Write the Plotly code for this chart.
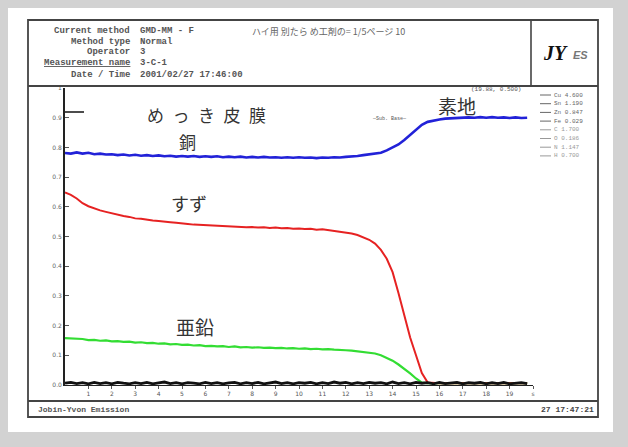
import plotly.graph_objects as go

# ---------------- data ----------------
depth = [0.00, 0.25, 0.50, 0.75, 1.00, 1.25, 1.50, 1.75, 2.00, 2.25,
         2.50, 2.75, 3.00, 3.25, 3.50, 3.75, 4.00, 4.25, 4.50, 4.75,
         5.00, 5.25, 5.50, 5.75, 6.00, 6.25, 6.50, 6.75, 7.00, 7.25,
         7.50, 7.75, 8.00, 8.25, 8.50, 8.75, 9.00, 9.25, 9.50, 9.75,
         10.00, 10.25, 10.50, 10.75, 11.00, 11.25, 11.50, 11.75, 12.00, 12.25,
         12.50, 12.75, 13.00, 13.25, 13.50, 13.75, 14.00, 14.25, 14.50, 14.75,
         15.00, 15.25, 15.50, 15.75, 16.00, 16.25, 16.50, 16.75, 17.00, 17.25,
         17.50, 17.75, 18.00, 18.25, 18.50, 18.75, 19.00, 19.25, 19.50, 19.75]

cu = [0.781, 0.779, 0.783, 0.779, 0.782, 0.777, 0.779, 0.776, 0.777, 0.774,
      0.776, 0.773, 0.775, 0.772, 0.774, 0.771, 0.773, 0.770, 0.772, 0.769,
      0.771, 0.769, 0.771, 0.768, 0.770, 0.768, 0.770, 0.767, 0.769, 0.767,
      0.769, 0.766, 0.768, 0.766, 0.768, 0.766, 0.767, 0.765, 0.767, 0.765,
      0.767, 0.765, 0.766, 0.764, 0.766, 0.765, 0.767, 0.766, 0.768, 0.769,
      0.771, 0.774, 0.777, 0.779, 0.782, 0.790, 0.800, 0.810, 0.825, 0.842,
      0.860, 0.876, 0.886, 0.891, 0.894, 0.897, 0.898, 0.900, 0.899, 0.901,
      0.900, 0.902, 0.900, 0.902, 0.900, 0.901, 0.899, 0.901, 0.899, 0.900]

sn = [0.648, 0.640, 0.628, 0.612, 0.602, 0.594, 0.588, 0.583, 0.578, 0.572,
      0.569, 0.566, 0.561, 0.560, 0.556, 0.554, 0.552, 0.549, 0.548, 0.546,
      0.543, 0.542, 0.540, 0.539, 0.537, 0.536, 0.535, 0.535, 0.533, 0.534,
      0.532, 0.531, 0.532, 0.530, 0.531, 0.529, 0.530, 0.528, 0.529, 0.526,
      0.527, 0.525, 0.526, 0.523, 0.524, 0.521, 0.520, 0.516, 0.514, 0.510,
      0.505, 0.498, 0.489, 0.476, 0.455, 0.425, 0.380, 0.310, 0.230, 0.160,
      0.100, 0.040, 0.008, 0.006, 0.006, 0.006, 0.006, 0.006, 0.006, 0.006,
      0.006, 0.006, 0.006, 0.006, 0.006, 0.006, 0.006, 0.006, 0.006, 0.006]

zn = [0.158, 0.157, 0.154, 0.155, 0.151, 0.152, 0.149, 0.150, 0.147, 0.148,
      0.145, 0.146, 0.143, 0.144, 0.141, 0.142, 0.139, 0.140, 0.137, 0.138,
      0.135, 0.136, 0.133, 0.134, 0.131, 0.132, 0.130, 0.131, 0.128, 0.130,
      0.127, 0.128, 0.126, 0.127, 0.125, 0.126, 0.124, 0.125, 0.123, 0.124,
      0.122, 0.123, 0.121, 0.122, 0.120, 0.121, 0.119, 0.119, 0.117, 0.116,
      0.114, 0.112, 0.109, 0.106, 0.100, 0.092, 0.082, 0.069, 0.055, 0.039,
      0.022, 0.008, 0.006, 0.006, 0.006, 0.006, 0.006, 0.006, 0.006, 0.006,
      0.006, 0.006, 0.006, 0.006, 0.006, 0.006, 0.006, 0.006, 0.006, 0.006]

fe = [0.006, 0.009, 0.005, 0.008, 0.004, 0.009, 0.005, 0.008, 0.004, 0.009,
      0.006, 0.004, 0.008, 0.005, 0.009, 0.004, 0.007, 0.010, 0.005, 0.008,
      0.004, 0.008, 0.006, 0.004, 0.009, 0.005, 0.008, 0.004, 0.007, 0.009,
      0.004, 0.008, 0.005, 0.009, 0.004, 0.007, 0.010, 0.005, 0.008, 0.004,
      0.008, 0.006, 0.009, 0.004, 0.008, 0.005, 0.010, 0.006, 0.009, 0.004,
      0.008, 0.005, 0.009, 0.006, 0.008, 0.004, 0.010, 0.005, 0.008, 0.004,
      0.009, 0.006, 0.008, 0.004, 0.009, 0.005, 0.008, 0.009, 0.004, 0.008,
      0.006, 0.009, 0.004, 0.008, 0.005, 0.009, 0.004, 0.007, 0.008, 0.005]

y_ticks = [0.0, 0.1, 0.2, 0.3, 0.4, 0.5, 0.6, 0.7, 0.8, 0.9, 1.0]
y_ticktext = ["0.0", "0.1", "0.2", "0.3", "0.4", "0.5", "0.6", "0.7", "0.8", "0.9", "1"]
x_ticks = [1, 2, 3, 4, 5, 6, 7, 8, 9, 10, 11, 12, 13, 14, 15, 16, 17, 18, 19, 20]
x_ticktext = ["1", "2", "3", "4", "5", "6", "7", "8", "9", "10", "11", "12", "13",
              "14", "15", "16", "17", "18", "19", "s"]

header_labels = ["Current method", "Method type", "Operator", "Measurement name", "Date / Time"]
header_values = ["GMD-MM - F", "Normal", "3", "3-C-1", "2001/02/27 17:46:00"]
legend_labels = ["Cu 4.600", "Sn 1.190", "Zn 0.847", "Fe 0.029", "C 1.700", "O 0.186", "N 1.147", "H 0.700"]

# ---------------- geometry ----------------
W, H = 628, 447
L, R, T, B = 65, 95, 88, 62
PW, PH = W - L - R, H - T - B


def P(px, py):
    return (px - L) / PW, (H - B - py) / PH


fig = go.Figure()
fig.add_trace(go.Scatter(x=depth, y=zn, mode="lines", line=dict(color="#33dd33", width=2.2), name="Zn"))
fig.add_trace(go.Scatter(x=depth, y=sn, mode="lines", line=dict(color="#e62222", width=2.0), name="Sn"))
fig.add_trace(go.Scatter(x=depth, y=cu, mode="lines", line=dict(color="#2222d8", width=2.6), name="Cu"))
fig.add_trace(go.Scatter(x=depth, y=fe, mode="lines", line=dict(color="#111111", width=2.8), name="Fe"))

shapes = []


def rect(x0, y0, x1, y1, **kw):
    a0, b0 = P(x0, y0)
    a1, b1 = P(x1, y1)
    shapes.append(dict(type="rect", xref="paper", yref="paper", x0=a0, y0=b0, x1=a1, y1=b1, **kw))


def line(x0, y0, x1, y1, color="#444444", width=1.6):
    a0, b0 = P(x0, y0)
    a1, b1 = P(x1, y1)
    shapes.append(dict(type="line", xref="paper", yref="paper", x0=a0, y0=b0, x1=a1, y1=b1,
                       line=dict(color=color, width=width)))


# page (white) on grey scan background
rect(8, 8, 613, 432, fillcolor="white", line=dict(width=0), layer="below")
# frame
rect(28, 20, 598, 417, line=dict(color="#444444", width=1.8))
line(28, 86, 598, 86, width=1.8)
line(531, 20, 531, 86, width=1.6)
line(28, 401, 598, 401, width=2.2)
# legend short lines
for i, _ in enumerate(legend_labels):
    yy = 95 + 8.7 * i
    line(540, yy, 551, yy, color="#666666" if i < 4 else "#999999", width=1)
# cursor dash near y-axis
line(65, 112, 84, 112, color="#111111", width=1.5)

annotations = []


def text(px, py, s, size=10, color="#333333", family="Liberation Mono", xanchor="center", **kw):
    a, b = P(px, py)
    annotations.append(dict(x=a, y=b, xref="paper", yref="paper", text=s, showarrow=False,
                            xanchor=xanchor, yanchor="middle",
                            font=dict(size=size, color=color, family=family), **kw))


rows_y = [31, 42, 52, 63, 75]
for lab, val, yy in zip(header_labels, header_values, rows_y):
    s = "<b><u>%s</u></b>" % lab if lab == "Measurement name" else "<b>%s</b>" % lab
    text(132, yy, s, size=9, color="#555555", xanchor="right")
    text(138, yy, "<b>%s</b>" % val, size=9, color="#555555", xanchor="left")

text(250, 32, "ハイ用 別たら め工剤の= 1/5ページ 10", size=9, color="#666666",
     family="Noto Sans CJK JP", xanchor="left")
# logo
text(555, 53, "<b><i>JY</i></b>", size=20, color="#111111", family="Liberation Serif")
text(580, 55, "<b><i>ES</i></b>", size=11, color="#777777", family="Liberation Sans")

# footer
text(36, 409, "<b>Jobin-Yvon Emission</b>", size=8, color="#555555", xanchor="left")
text(596, 409, "<b>27 17:47:21</b>", size=8, color="#444444", xanchor="right")

# plot annotations
jp = "Noto Sans CJK JP"
sp = "\u2002"
text(206, 114, sp.join("めっき皮膜"), size=17, color="#333333", family=jp)
text(187, 141, "銅", size=17, color="#333333", family=jp)
text(457, 106, "素地", size=19, color="#333333", family=jp)
text(189, 203, "すず", size=18, color="#333333", family=jp)
text(195, 326, "亜鉛", size=19, color="#333333", family=jp)
text(389, 119, "—Sub. Base—", size=5, color="#555555")
text(496, 90, "(19.88, 0.500)", size=6, color="#555555")

for i, lab in enumerate(legend_labels):
    yy = 95 + 8.7 * i
    text(552, yy, lab, size=6, color="#666666" if i < 4 else "#999999", xanchor="left")

fig.update_layout(
    width=W, height=H,
    margin=dict(l=L, r=R, t=T, b=B, pad=0),
    paper_bgcolor="#d2d2d2",
    plot_bgcolor="rgba(0,0,0,0)",
    showlegend=False,
    shapes=shapes,
    annotations=annotations,
    xaxis=dict(range=[0, 20], tickvals=x_ticks, ticktext=x_ticktext, showgrid=False, zeroline=False,
               showline=True, linecolor="#222222", linewidth=1, ticks="outside", ticklen=3,
               tickcolor="#555555", tickfont=dict(size=6, color="#555555", family="DejaVu Sans")),
    yaxis=dict(range=[0, 1], tickvals=y_ticks, ticktext=y_ticktext, showgrid=False, zeroline=False,
               showline=True, linecolor="#222222", linewidth=1.8, ticks="inside", ticklen=4,
               tickcolor="#555555", tickfont=dict(size=6, color="#666666", family="DejaVu Sans")),
)

fig.write_html("out.html", config={"displayModeBar": False},
               post_script="document.body.style.margin='0';document.body.style.overflow='hidden';")
